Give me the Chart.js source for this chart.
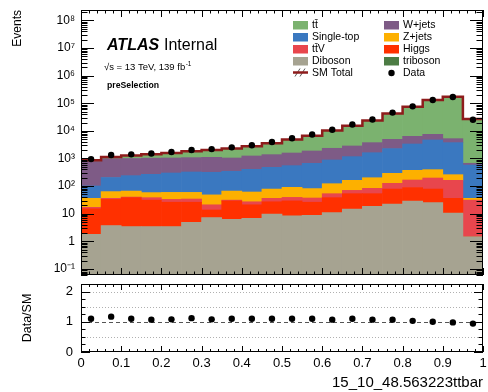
<!DOCTYPE html>
<html>
<head>
<meta charset="utf-8">
<script src="https://cdn.jsdelivr.net/npm/chart.js@4.4.1/dist/chart.umd.min.js"></script>
<style>
  body { margin: 0; background: #fff; }
  #wrap { position: relative; width: 488px; height: 392px; }
  canvas { position: absolute; left: 0; }
</style>
</head>
<body>
<div id="wrap">
  <canvas id="main_chart" width="488" height="280" style="top:0px"></canvas>
  <canvas id="ratio_chart" width="488" height="112" style="top:280px"></canvas>
</div>
<script>
// bins of the variable, 0.05 wide
const binCenters = [0.025, 0.075, 0.125, 0.175, 0.225, 0.275, 0.325, 0.375, 0.425, 0.475,
                    0.525, 0.575, 0.625, 0.675, 0.725, 0.775, 0.825, 0.875, 0.925, 0.975];
const xMin = 0, xMax = 1;

// background processes (stacked, bottom first)
const diboson   = [1.8, 3.7, 3.4, 3.4, 3.4, 4.9, 7.2, 6.3, 6.8, 9.7, 8.3, 8.7, 10.9, 14.8, 18.5, 22.4, 28.8, 25, 10.6, 1.47];
const higgs     = [13.2, 29.3, 34.6, 27.6, 22.6, 21.1, 6.4, 22.7, 14.2, 17.3, 20.7, 17.3, 27.1, 38.2, 34.5, 55.6, 59.2, 53, 25.4, 0.03];
const ttV       = [2, 3, 2, 7, 7, 8, 7.4, 2, 6, 9, 10, 11, 15, 17, 30, 48, 78, 118, 126, 29.5];
const zjets     = [19, 27, 26, 20, 26, 25, 27, 35, 34, 42, 51, 44, 69, 92, 118, 164, 207, 198, 97, 5];
const singleTop = [65, 142, 173, 209, 239, 265, 268, 278, 344, 401, 460, 587, 761, 1004, 1419, 1990, 2977, 4286, 3491, 544];
const wjets     = [679, 775, 761, 763, 744, 748, 784, 698, 827, 898, 1030, 1202, 1457, 1674, 2130, 2660, 3000, 2840, 1480, 90];
const ttbar     = [90, 160, 280, 386, 540, 748, 930, 1258, 1518, 2223, 3320, 4830, 7960, 12660, 20250, 38060, 68650, 124480, 166770, 26330];
const triboson  = [0.05, 0.06, 0.08, 0.08, 0.1, 0.1, 0.12, 0.12, 0.15, 0.15, 0.2, 0.2, 0.25, 0.3, 0.35, 0.4, 0.5, 0.5, 0.4, 0.05];

const smTotal    = [870, 1140, 1280, 1416, 1582, 1820, 2030, 2300, 2750, 3600, 4900, 6700, 10300, 15500, 24000, 43000, 75000, 132000, 172000, 27000];
const dataEvents = [950, 1340, 1410, 1520, 1710, 2040, 2190, 2530, 3030, 3960, 5390, 7370, 11000, 17000, 25700, 46000, 77300, 132000, 168500, 25400];
const dataOverSM = [1.10, 1.17, 1.10, 1.07, 1.08, 1.12, 1.08, 1.10, 1.10, 1.10, 1.10, 1.10, 1.07, 1.10, 1.07, 1.07, 1.03, 1.00, 0.98, 0.94];

// tick labels
const yTickValues = [0.1, 1, 10, 100, 1e3, 1e4, 1e5, 1e6, 1e7, 1e8];
const yTickLabels = ['10\u207B\u00B9', '1', '10', '10\u00B2', '10\u00B3', '10\u2074', '10\u2075', '10\u2076', '10\u2077', '10\u2078'];
const xTickValues = [0, 0.1, 0.2, 0.3, 0.4, 0.5, 0.6, 0.7, 0.8, 0.9, 1];
const xTickLabels = ['0', '0.1', '0.2', '0.3', '0.4', '0.5', '0.6', '0.7', '0.8', '0.9', '1'];
const rTickValues = [0, 1, 2];
const rTickLabels = ['0', '1', '2'];

const colors = {
    ttbar: '#7bb26f', singleTop: '#3a78c0', ttV: '#e8464d', diboson: '#a6a391',
    wjets: '#7e5b86', zjets: '#fdb000', higgs: '#ff3000', triboson: '#4c7c44',
    total: '#8e1c1c'
};

Chart.defaults.font.family = "'Liberation Sans', Arial, Helvetica, sans-serif";
Chart.defaults.color = '#000';

function points(values) {
    return values.map((v, i) => ({x: binCenters[i], y: v}));
}

function stackBar(label, values, color) {
    return {
        type: 'bar', label: label, data: points(values),
        backgroundColor: color, borderWidth: 0,
        barPercentage: 1.0, categoryPercentage: 1.0,
        stack: 'mc', order: 2
    };
}

// ROOT-like frame with inward ticks on all four sides
const rootFrame = {
    id: 'rootFrame',
    beforeDatasetsDraw(chart, args, opts) {
        const ctx = chart.ctx, a = chart.chartArea, ys = chart.scales.y;
        (opts.refLines || []).forEach(l => {
            const py = Math.round(ys.getPixelForValue(l.value)) + 0.5;
            ctx.save();
            ctx.strokeStyle = l.color;
            ctx.lineWidth = 1;
            ctx.setLineDash(l.dash);
            ctx.beginPath();
            ctx.moveTo(a.left, py);
            ctx.lineTo(a.right, py);
            ctx.stroke();
            ctx.restore();
        });
    },
    afterDatasetsDraw(chart, args, opts) {
        const ctx = chart.ctx, a = chart.chartArea;
        const xs = chart.scales.x, ys = chart.scales.y;
        ctx.save();
        ctx.strokeStyle = '#000';
        ctx.lineWidth = 1;
        ctx.beginPath();
        const nx = Math.round((xMax - xMin) / opts.xMinor);
        for (let i = 0; i <= nx; i++) {
            const px = Math.round(xs.getPixelForValue(xMin + i * opts.xMinor)) + 0.5;
            const len = (i % opts.xPer === 0) ? opts.xMajorLen : opts.xMinorLen;
            ctx.moveTo(px, a.bottom); ctx.lineTo(px, a.bottom - len);
            ctx.moveTo(px, a.top); ctx.lineTo(px, a.top + len);
        }
        const yt = [];
        if (opts.log) {
            for (let e = -2; e <= 8; e++) {
                for (let k = 1; k <= 9; k++) {
                    const v = k * Math.pow(10, e);
                    if (v >= ys.min && v <= ys.max) yt.push([v, k === 1]);
                }
            }
        } else {
            for (let v = ys.min; v < ys.max - 1e-6; v += opts.yMinor) {
                yt.push([v, Math.abs(v - Math.round(v)) < 1e-6]);
            }
        }
        yt.forEach(([v, major]) => {
            const py = Math.round(ys.getPixelForValue(v)) + 0.5;
            const len = major ? opts.yMajorLen : opts.yMinorLen;
            ctx.moveTo(a.left, py); ctx.lineTo(a.left + len, py);
            ctx.moveTo(a.right, py); ctx.lineTo(a.right - len, py);
        });
        ctx.stroke();
        ctx.strokeRect(Math.round(a.left) + 0.5, Math.round(a.top) + 0.5,
                       Math.round(a.right - a.left) - 1, Math.round(a.bottom - a.top) - 1);
        ctx.restore();
    }
};

// ATLAS label and the two-column legend
const labelsAndLegend = {
    id: 'labelsAndLegend',
    afterDraw(chart) {
        const ctx = chart.ctx;
        const fam = "'Liberation Sans', Arial, Helvetica, sans-serif";
        ctx.save();
        ctx.fillStyle = '#000';
        ctx.textBaseline = 'alphabetic';
        ctx.font = 'italic bold 16px ' + fam;
        ctx.fillText('ATLAS', 107, 50);
        ctx.font = '16px ' + fam;
        ctx.fillText('Internal', 164, 50);
        ctx.font = '9.5px ' + fam;
        const lumi = '\u221As = 13 TeV, 139 fb';
        ctx.fillText(lumi, 104, 70);
        const w = ctx.measureText(lumi).width;
        ctx.font = '6.5px ' + fam;
        ctx.fillText('-1', 104 + w + 0.5, 66);
        ctx.font = 'bold 8.7px ' + fam;
        ctx.fillText('preSelection', 107, 88);

        const rows = [25, 37, 49, 61, 72.5];
        const col1 = [['tt\u0304', colors.ttbar], ['Single-top', colors.singleTop], ['tt\u0304V', colors.ttV], ['Diboson', colors.diboson], ['SM Total', 'sm']];
        const col2 = [['W+jets', colors.wjets], ['Z+jets', colors.zjets], ['Higgs', colors.higgs], ['triboson', colors.triboson], ['Data', 'data']];
        ctx.font = '10.5px ' + fam;
        ctx.textBaseline = 'middle';
        [[col1, 293], [col2, 384]].forEach(([col, bx]) => {
            col.forEach(([text, c], i) => {
                const cy = rows[i];
                if (c === 'sm') {
                    ctx.strokeStyle = '#555';
                    ctx.lineWidth = 1;
                    ctx.beginPath();
                    ctx.moveTo(bx + 2, cy + 4); ctx.lineTo(bx + 7, cy - 4);
                    ctx.moveTo(bx + 7, cy + 4); ctx.lineTo(bx + 12, cy - 4);
                    ctx.stroke();
                    ctx.strokeStyle = colors.total;
                    ctx.lineWidth = 2.5;
                    ctx.beginPath();
                    ctx.moveTo(bx, cy); ctx.lineTo(bx + 15, cy);
                    ctx.stroke();
                } else if (c === 'data') {
                    ctx.fillStyle = '#000';
                    ctx.beginPath();
                    ctx.arc(bx + 7.5, cy + 0.5, 3.2, 0, 2 * Math.PI);
                    ctx.fill();
                } else {
                    ctx.fillStyle = c;
                    ctx.fillRect(bx, cy - 4, 15, 8.5);
                }
                ctx.fillStyle = '#000';
                ctx.fillText(text, bx + 19, cy + 0.5);
            });
        });
        ctx.restore();
    }
};

function createMainChart() {
    const main_chart = document.getElementById('main_chart');
    const totalLine = [{x: xMin, y: smTotal[0]}].concat(points(smTotal), [{x: xMax, y: smTotal[smTotal.length - 1]}]);
    const main_chart_data = {
        datasets: [
            {
                type: 'line', label: 'Data', data: points(dataEvents),
                showLine: false, pointRadius: 3.2, pointBackgroundColor: '#000',
                pointBorderWidth: 0, stack: 'data', order: 0
            },
            {
                type: 'line', label: 'SM Total', data: totalLine,
                stepped: 'middle', borderColor: colors.total, borderWidth: 2.5,
                pointRadius: 0, fill: false, stack: 'sm', order: 1
            },
            stackBar('Diboson', diboson, colors.diboson),
            stackBar('Higgs', higgs, colors.higgs),
            stackBar('ttV', ttV, colors.ttV),
            stackBar('Z+jets', zjets, colors.zjets),
            stackBar('Single-top', singleTop, colors.singleTop),
            stackBar('W+jets', wjets, colors.wjets),
            stackBar('ttbar', ttbar, colors.ttbar),
            stackBar('triboson', triboson, colors.triboson)
        ]
    };

    const main_chart_config = {
        type: 'bar',
        data: main_chart_data,
        options: {
            responsive: false,
            animation: false,
            layout: { padding: { left: 0, right: 5, top: 10, bottom: 0 } },
            plugins: {
                legend: { display: false },
                tooltip: { enabled: false },
                rootFrame: { xMinor: 0.02, xPer: 5, xMajorLen: 7, xMinorLen: 3.5, log: true, yMajorLen: 13, yMinorLen: 6.5 }
            },
            scales: {
                x: {
                    type: 'linear', min: xMin, max: xMax, stacked: true, offset: false,
                    ticks: { display: false, stepSize: 0.1 },
                    grid: { display: false, drawTicks: false },
                    border: { display: false },
                    afterFit: s => { s.height = 5; s.paddingLeft = 0; s.paddingRight = 0; }
                },
                y: {
                    type: 'logarithmic', min: 0.06, max: 2.4e8, stacked: true,
                    afterBuildTicks: s => { s.ticks = yTickValues.map(v => ({value: v})); },
                    ticks: {
                        autoSkip: false, padding: 6, font: { size: 12 },
                        callback: (v, i) => yTickLabels[i]
                    },
                    grid: { display: false, drawTicks: false },
                    border: { display: false },
                    title: { display: true, text: 'Events', align: 'end', font: { size: 12 }, padding: { top: 10.5, bottom: 0 } },
                    afterFit: s => { s.width = 81; s.paddingTop = 0; s.paddingBottom = 0; }
                }
            }
        },
        plugins: [rootFrame, labelsAndLegend]
    };

    return new Chart(main_chart, main_chart_config);
}

function createRatioChart() {
    const ratio_chart = document.getElementById('ratio_chart');
    const ratio_chart_config = {
        type: 'line',
        data: {
            datasets: [{
                label: 'Data/SM', data: points(dataOverSM),
                showLine: false, pointRadius: 3.2, pointBackgroundColor: '#000', pointBorderWidth: 0
            }]
        },
        options: {
            responsive: false,
            animation: false,
            layout: { padding: { left: 0, right: 5, top: 4, bottom: 0 } },
            plugins: {
                legend: { display: false },
                tooltip: { enabled: false },
                rootFrame: {
                    xMinor: 0.02, xPer: 5, xMajorLen: 6, xMinorLen: 3, log: false, yMinor: 0.25, yMajorLen: 9, yMinorLen: 4.5,
                    refLines: [
                        { value: 0.5, color: '#b0b0b0', dash: [1, 2] },
                        { value: 1.5, color: '#b0b0b0', dash: [1, 2] },
                        { value: 2.0, color: '#b0b0b0', dash: [1, 2] },
                        { value: 1.0, color: '#555', dash: [4, 3] }
                    ]
                }
            },
            scales: {
                x: {
                    type: 'linear', min: xMin, max: xMax, offset: false,
                    afterBuildTicks: s => { s.ticks = xTickValues.map(v => ({value: v})); },
                    ticks: { autoSkip: false, maxRotation: 0, padding: 4, font: { size: 13 }, callback: (v, i) => xTickLabels[i] },
                    grid: { display: false, drawTicks: false },
                    border: { display: false },
                    title: { display: true, text: '15_10_48.563223ttbar', align: 'end', font: { size: 15 }, padding: { top: 0, bottom: 0 } },
                    afterFit: s => { s.height = 40; s.paddingLeft = 0; s.paddingRight = 0; }
                },
                y: {
                    type: 'linear', min: 0, max: 2.25,
                    afterBuildTicks: s => { s.ticks = rTickValues.map(v => ({value: v})); },
                    ticks: { autoSkip: false, padding: 8, font: { size: 13 }, callback: (v, i) => rTickLabels[i] },
                    grid: { display: false, drawTicks: false },
                    border: { display: false },
                    title: { display: true, text: 'Data/SM', align: 'center', font: { size: 12.5 }, padding: { top: 20, bottom: 0 } },
                    afterFit: s => { s.width = 81; s.paddingTop = 0; s.paddingBottom = 0; }
                }
            }
        },
        plugins: [rootFrame]
    };
    return new Chart(ratio_chart, ratio_chart_config);
}

createMainChart();
createRatioChart();
</script>
</body>
</html>
